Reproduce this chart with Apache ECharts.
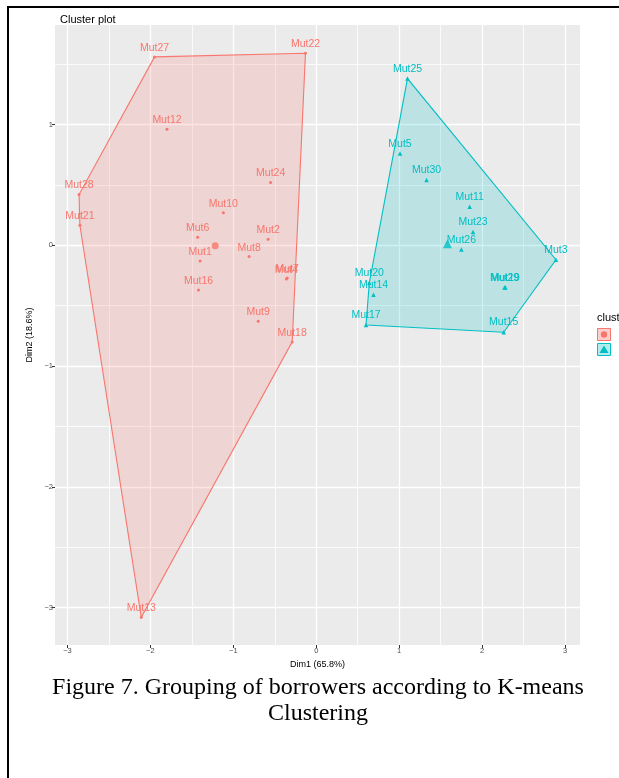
<!DOCTYPE html>
<html>
<head>
<meta charset="utf-8">
<script src="https://cdn.jsdelivr.net/npm/echarts@6/dist/echarts.min.js"></script>
<style>
  html, body { margin: 0; padding: 0; background: #ffffff; }
  #chart { width: 619px; height: 778px; }
</style>
</head>
<body>
<div id="chart"></div>
<script>
// Cluster 1 (red): borrower labels and their first two principal coordinates
const cluster1Names = ['Mut27', 'Mut22', 'Mut12', 'Mut28', 'Mut21', 'Mut24', 'Mut10', 'Mut6', 'Mut2',
  'Mut1', 'Mut8', 'Mut4', 'Mut7', 'Mut16', 'Mut9', 'Mut18', 'Mut13'];
const cluster1Dim1 = [-1.95, -0.13, -1.80, -2.86, -2.85, -0.55, -1.12, -1.43, -0.58,
  -1.40, -0.81, -0.36, -0.35, -1.42, -0.70, -0.29, -2.11];
const cluster1Dim2 = [1.56, 1.59, 0.96, 0.42, 0.166, 0.52, 0.27, 0.066, 0.05,
  -0.13, -0.094, -0.28, -0.27, -0.37, -0.63, -0.80, -3.08];

// Cluster 2 (cyan)
const cluster2Names = ['Mut25', 'Mut5', 'Mut30', 'Mut11', 'Mut23', 'Mut26', 'Mut3', 'Mut20', 'Mut14',
  'Mut29', 'Mut19', 'Mut17', 'Mut15'];
const cluster2Dim1 = [1.10, 1.01, 1.33, 1.85, 1.89, 1.75, 2.89, 0.64, 0.69, 2.27, 2.28, 0.60, 2.26];
const cluster2Dim2 = [1.38, 0.76, 0.54, 0.32, 0.11, -0.036, -0.12, -0.31, -0.41, -0.35, -0.35, -0.66, -0.72];

// Axis ticks and visible ranges
const xTicks = [-3, -2, -1, 0, 1, 2, 3];
const xMinorTicks = [-2.5, -1.5, -0.5, 0.5, 1.5, 2.5];
const yTicks = [-3, -2, -1, 0, 1];
const yMinorTicks = [-2.5, -1.5, -0.5, 0.5, 1.5];
const xRange = [-3.15, 3.18];
const yRange = [-3.31, 1.824];

const RED = '#F8766D';
const CYAN = '#00BFC4';
const SANS = 'Liberation Sans, Arial, sans-serif';

function toPoints(xs, ys) {
  return xs.map((x, i) => [x, ys[i]]);
}

// Monotone-chain convex hull around a cluster's points
function convexHull(pts) {
  const p = pts.slice().sort((a, b) => a[0] - b[0] || a[1] - b[1]);
  const cross = (o, a, b) => (a[0] - o[0]) * (b[1] - o[1]) - (a[1] - o[1]) * (b[0] - o[0]);
  const lower = [];
  for (const q of p) {
    while (lower.length >= 2 && cross(lower[lower.length - 2], lower[lower.length - 1], q) <= 0) lower.pop();
    lower.push(q);
  }
  const upper = [];
  for (let i = p.length - 1; i >= 0; i--) {
    const q = p[i];
    while (upper.length >= 2 && cross(upper[upper.length - 2], upper[upper.length - 1], q) <= 0) upper.pop();
    upper.push(q);
  }
  upper.pop(); lower.pop();
  return lower.concat(upper);
}

function centroid(pts) {
  const n = pts.length;
  return [pts.reduce((s, q) => s + q[0], 0) / n, pts.reduce((s, q) => s + q[1], 0) / n];
}

const pts1 = toPoints(cluster1Dim1, cluster1Dim2);
const pts2 = toPoints(cluster2Dim1, cluster2Dim2);
const hull1 = convexHull(pts1);
const hull2 = convexHull(pts2);

function hullSeries(hull, color) {
  return {
    type: 'custom',
    silent: true,
    z: 1,
    data: [hull[0]],
    renderItem: function (params, api) {
      return {
        type: 'polygon',
        shape: { points: hull.map(q => api.coord(q)) },
        style: { fill: color, fillOpacity: 0.2, stroke: color, lineWidth: 1.1, strokeOpacity: 1 }
      };
    }
  };
}

function pointSeries(names, pts, color, symbol, size) {
  return {
    type: 'scatter',
    z: 3,
    symbol: symbol,
    symbolSize: size,
    itemStyle: { color: color, opacity: 1 },
    label: {
      show: true,
      position: 'top',
      distance: 2,
      formatter: '{b}',
      color: color,
      fontFamily: SANS,
      fontSize: 10.5
    },
    labelLayout: { hideOverlap: false },
    data: names.map((n, i) => ({ name: n, value: pts[i] }))
  };
}

const minusFormatter = v => String(v).replace('-', '\u2212');

const chart = echarts.init(document.getElementById('chart'), null, { renderer: 'canvas' });

chart.setOption({
  animation: false,
  backgroundColor: '#ffffff',
  title: {
    text: 'Cluster plot',
    left: 55,
    top: 9,
    textStyle: { fontFamily: SANS, fontSize: 11, fontWeight: 'normal', color: '#000000' }
  },
  grid: {
    left: 55,
    right: 39,
    top: 25,
    bottom: 133,
    show: true,
    backgroundColor: '#EBEBEB',
    borderWidth: 0,
    containLabel: false
  },
  xAxis: [
    {
      type: 'value',
      min: xRange[0],
      max: xRange[1],
      position: 'bottom',
      name: 'Dim1 (65.8%)',
      nameLocation: 'middle',
      nameGap: 12,
      nameTextStyle: { fontFamily: SANS, fontSize: 9, color: '#000000' },
      axisLine: { show: false, onZero: false },
      axisTick: { show: true, customValues: xTicks, length: 3, lineStyle: { color: '#333333', width: 1 } },
      axisLabel: { customValues: xTicks, fontFamily: SANS, fontSize: 7.5, color: '#4D4D4D', margin: 2, formatter: minusFormatter },
      splitLine: { show: true, lineStyle: { color: '#ffffff', width: 1.3 } }
    },
    {
      type: 'value',
      min: xRange[0],
      max: xRange[1],
      position: 'top',
      axisLine: { show: false, onZero: false },
      axisTick: { show: false, customValues: xMinorTicks },
      axisLabel: { show: false },
      splitLine: { show: true, lineStyle: { color: '#ffffff', width: 0.8 } }
    }
  ],
  yAxis: [
    {
      type: 'value',
      min: yRange[0],
      max: yRange[1],
      position: 'left',
      name: 'Dim2 (18.6%)',
      nameLocation: 'middle',
      nameRotate: 90,
      nameGap: 17,
      nameTextStyle: { fontFamily: SANS, fontSize: 9, color: '#000000' },
      axisLine: { show: false, onZero: false },
      axisTick: { show: true, customValues: yTicks, length: 3, lineStyle: { color: '#333333', width: 1 } },
      axisLabel: { customValues: yTicks, fontFamily: SANS, fontSize: 7.5, color: '#4D4D4D', margin: 2, formatter: minusFormatter },
      splitLine: { show: true, lineStyle: { color: '#ffffff', width: 1.3 } }
    },
    {
      type: 'value',
      min: yRange[0],
      max: yRange[1],
      position: 'right',
      axisLine: { show: false, onZero: false },
      axisTick: { show: false, customValues: yMinorTicks },
      axisLabel: { show: false },
      splitLine: { show: true, lineStyle: { color: '#ffffff', width: 0.8 } }
    }
  ],
  series: [
    hullSeries(hull1, RED),
    hullSeries(hull2, CYAN),
    pointSeries(cluster1Names, pts1, RED, 'circle', 3),
    pointSeries(cluster2Names, pts2, CYAN, 'triangle', 4.5),
    {
      type: 'scatter', z: 4, symbol: 'circle', symbolSize: 7,
      itemStyle: { color: RED }, data: [centroid(pts1)]
    },
    {
      type: 'scatter', z: 4, symbol: 'triangle', symbolSize: 9,
      itemStyle: { color: CYAN }, data: [centroid(pts2)]
    }
  ],
  graphic: [
    // page frame lines
    { type: 'rect', shape: { x: 8, y: 6, width: 611, height: 2 }, style: { fill: '#000000' } },
    { type: 'rect', shape: { x: 7, y: 6, width: 2, height: 772 }, style: { fill: '#000000' } },
    // cluster legend
    { type: 'text', left: 597, top: 312, style: { text: 'cluster', fontFamily: SANS, fontSize: 11, fill: '#000000' } },
    { type: 'rect', shape: { x: 597.5, y: 328.5, width: 13, height: 12 },
      style: { fill: 'rgba(248,118,109,0.35)', stroke: RED, lineWidth: 1 } },
    { type: 'circle', shape: { cx: 604, cy: 334.5, r: 3.2 }, style: { fill: RED } },
    { type: 'rect', shape: { x: 597.5, y: 343.5, width: 13, height: 12 },
      style: { fill: 'rgba(0,191,196,0.3)', stroke: CYAN, lineWidth: 1 } },
    { type: 'polygon', shape: { points: [[604, 345.5], [608.5, 353], [599.5, 353]] }, style: { fill: CYAN } },
    // figure caption
    {
      type: 'text',
      x: 318,
      y: 688,
      style: {
        text: 'Figure 7. Grouping of borrowers according to K-means',
        fontFamily: 'Liberation Serif, Times New Roman, serif',
        fontSize: 24,
        fill: '#000000',
        align: 'center',
        verticalAlign: 'middle'
      }
    },
    {
      type: 'text',
      x: 318,
      y: 714,
      style: {
        text: 'Clustering',
        fontFamily: 'Liberation Serif, Times New Roman, serif',
        fontSize: 24,
        fill: '#000000',
        align: 'center',
        verticalAlign: 'middle'
      }
    }
  ]
});
</script>
</body>
</html>
